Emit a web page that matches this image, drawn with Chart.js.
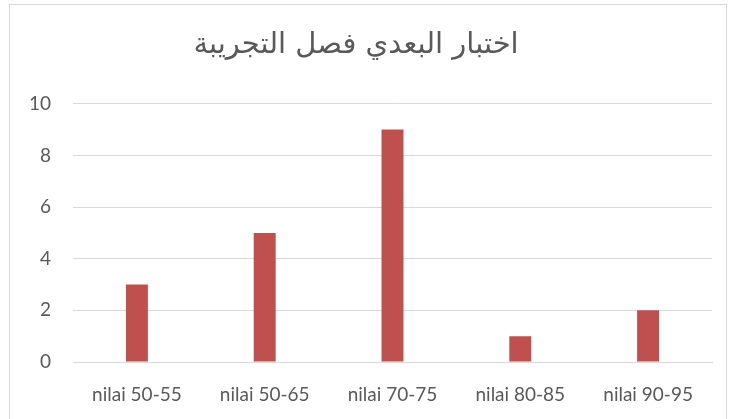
<!DOCTYPE html>
<html><head><meta charset="utf-8">
<script src="https://cdn.jsdelivr.net/npm/chart.js@4"></script>
<style>
html,body{margin:0;padding:0;background:#fff;}
#wrap{position:absolute;left:0;top:0;width:734px;height:419px;}
#frame{position:absolute;left:9px;top:4px;width:718px;height:430px;border:1px solid #d9d9d9;box-sizing:border-box;}
canvas{position:absolute;left:0;top:0;}
</style></head><body>
<div id="wrap"><div id="frame"></div><canvas id="c" width="734" height="419"></canvas></div>
<script>
const categories = ["nilai 50-55", "nilai 50-65", "nilai 70-75", "nilai 80-85", "nilai 90-95"];
const values = [3, 5, 9, 1, 2];
const yTicks = [0, 2, 4, 6, 8, 10];
const titleText = "اختبار البعدي فصل التجريبة";

new Chart(document.getElementById('c'), {
  type: 'bar',
  data: { labels: categories, datasets: [{ data: values, backgroundColor: '#C0504D', categoryPercentage: 1, barPercentage: 0.172 }] },
  options: {
    responsive: false, animation: false,
    layout: { padding: { left: 0, right: 22, top: 28, bottom: 13 } },
    plugins: {
      legend: { display: false }, tooltip: { enabled: false },
      title: { display: true, text: titleText, color: '#595959', font: { family: 'DejaVu Sans', size: 29, weight: 'normal', lineHeight: 1.2 }, padding: { top: 0, bottom: 41 } }
    },
    scales: {
      x: { grid: { display: false, drawTicks: false }, border: { display: true, color: '#d9d9d9' },
           afterFit: s => { s.height = 44; },
           ticks: { color: '#595959', font: { family: 'Lato', size: 19 }, padding: 21, maxRotation: 0, autoSkip: false } },
      y: { min: 0, max: 10, afterBuildTicks: s => { s.ticks = yTicks.map(v => ({ value: v })); },
           afterFit: s => { s.width = 73; },
           grid: { color: '#d9d9d9', drawTicks: false }, border: { display: false },
           ticks: { color: '#595959', font: { family: 'Lato', size: 19 }, padding: 22 } }
    }
  }
});
</script></body></html>
